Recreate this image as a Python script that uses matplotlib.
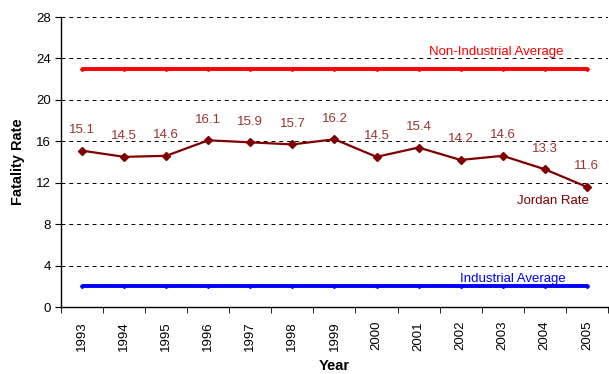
import matplotlib
matplotlib.use("Agg")
import matplotlib.pyplot as plt
import numpy as np

plt.rcParams["font.family"] = ["Liberation Sans", "DejaVu Sans"]

years = ["1993", "1994", "1995", "1996", "1997", "1998", "1999",
         "2000", "2001", "2002", "2003", "2004", "2005"]
jordan_rate = [15.1, 14.5, 14.6, 16.1, 15.9, 15.7, 16.2, 14.5, 15.4, 14.2, 14.6, 13.3, 11.6]
non_industrial_avg = 23
industrial_avg = 2

x = np.arange(len(years))

fig = plt.figure(figsize=(6.09, 3.74), dpi=100)
ax = fig.add_axes([0.1002, 0.179, 0.898, 0.7755])

ax.plot(x, [non_industrial_avg] * len(x), color="#ff0000", linewidth=2.8,
        marker="D", markersize=2, solid_capstyle="butt")
ax.plot(x, [industrial_avg] * len(x), color="#0000ff", linewidth=2.8,
        marker="D", markersize=2, solid_capstyle="butt")
ax.plot(x, jordan_rate, color="#800000", linewidth=1.6, marker="D", markersize=4.5)

for xi, v in zip(x, jordan_rate):
    ax.text(xi, v + 1.4, f"{v:.1f}", ha="center", va="bottom",
            color="#993333", fontsize=9.5)

ax.text(9.85, 24.0, "Non-Industrial Average", color="#ff0000", fontsize=9.5,
        ha="center", va="bottom")
ax.text(10.25, 2.1, "Industrial Average", color="#0000ff", fontsize=9.5,
        ha="center", va="bottom")
ax.text(11.2, 10.2, "Jordan Rate", color="#800000", fontsize=9.5,
        ha="center", va="center")

ax.set_xlim(-0.5, len(x) - 0.5)
ax.set_ylim(0, 28)
ax.set_yticks(range(0, 29, 4))
ax.set_xticks(x)
ax.set_xticklabels(years, rotation=90, fontsize=9.5)
ax.set_xticks(np.arange(-0.5, len(x), 1), minor=True)
ax.tick_params(axis="x", which="major", length=0, pad=10)
ax.tick_params(axis="x", which="minor", length=4, direction="out")
ax.tick_params(axis="y", labelsize=9.5, length=4, direction="out")

ax.grid(True, axis="y", linestyle=(0, (4, 4)), color="black", linewidth=0.7)
ax.set_axisbelow(True)
for s in ("top", "right"):
    ax.spines[s].set_visible(False)
for s in ("left", "bottom"):
    ax.spines[s].set_color("black")
    ax.spines[s].set_linewidth(1.0)

ax.set_ylabel("Fatality Rate", fontsize=10.5, fontweight="bold", labelpad=8)
ax.set_xlabel("Year", fontsize=10.5, fontweight="bold", labelpad=6)

fig.savefig("out.png", dpi=100)
